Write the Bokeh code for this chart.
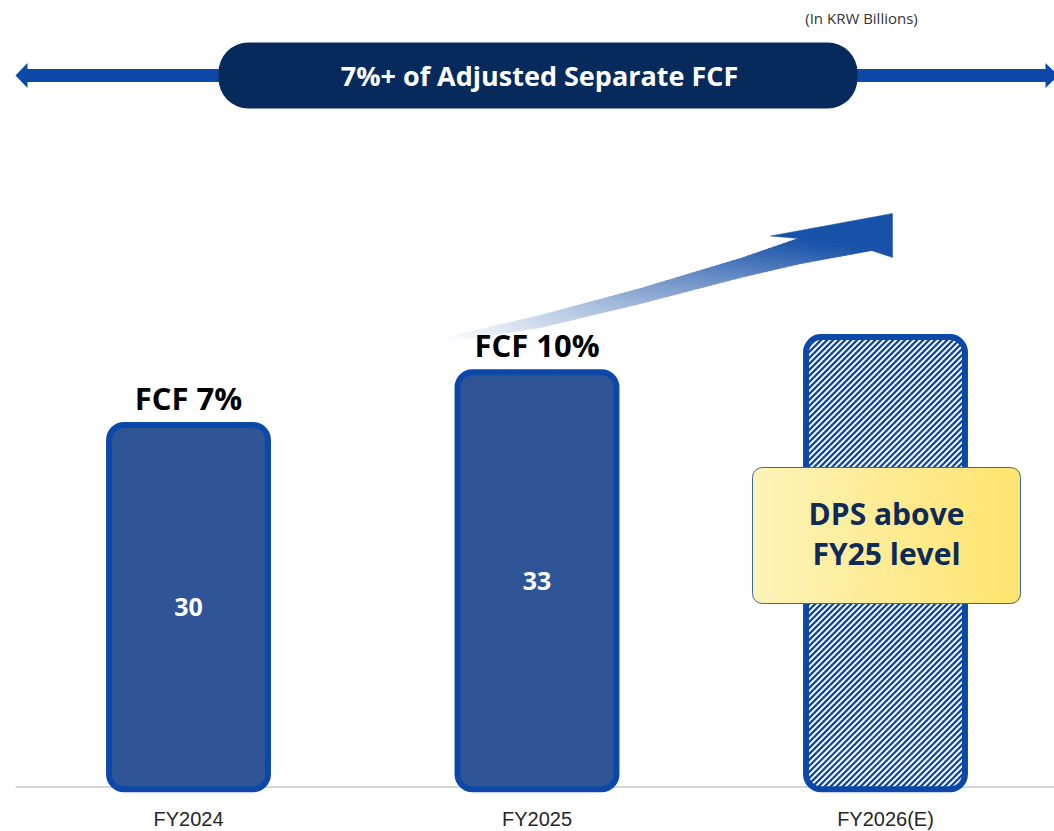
import numpy as np
from bokeh.plotting import figure
from bokeh.models import Range1d, FixedTicker
from bokeh.core.properties import value
from bokeh.embed import file_html
from bokeh.resources import INLINE

# ---------------- data ----------------
categories = ["FY2024", "FY2025", "FY2026(E)"]
dividend = [30, 33, 35]            # FY2026(E) bar height is an estimate (not labelled)
value_labels = ["30", "33"]
fcf_labels = ["FCF 7%", "FCF 10%"]
banner_text = "7%+ of Adjusted Separate FCF"
unit_text = "(In KRW Billions)"
callout_text = "DPS above\nFY25 level"

# ---------------- layout constants ----------------
FW, FH = 1054, 795                 # frame size in page px
PX_PER_UNIT = 17.57
FLOOR = 9.27                       # value where bars start (baseline)
FLOOR_PX = 788.7
X_UNIT = 348.5
X0_PX = 188.0
BAR_W = 0.456
BAR_R = 15

y_start = FLOOR - (FH - FLOOR_PX) / PX_PER_UNIT
y_end = FLOOR + FLOOR_PX / PX_PER_UNIT
x_start = -X0_PX / X_UNIT
x_end = x_start + FW / X_UNIT

OS = value("Open Sans")
NAVY = "#062a5c"
BLUE = "#0b48a8"

p = figure(frame_width=FW, frame_height=FH,
           x_range=Range1d(x_start, x_end), y_range=Range1d(y_start, y_end),
           output_backend="svg", toolbar_location=None, y_axis_location=None,
           min_border_left=0, min_border_right=0, min_border_top=0, min_border_bottom=0,
           outline_line_color=None, background_fill_color="white", border_fill_color="white")
p.grid.visible = False
p.extra_x_ranges = {"px": Range1d(0, FW)}
p.extra_y_ranges = {"px": Range1d(FH, 0)}
PX = dict(x_range_name="px", y_range_name="px")

idx = list(range(len(categories)))
p.xaxis.ticker = FixedTicker(ticks=idx)
p.xaxis.major_label_overrides = {i: c for i, c in enumerate(categories)}
p.xaxis.axis_line_color = None
p.xaxis.major_tick_line_color = None
p.xaxis.minor_tick_line_color = None
p.xaxis.major_tick_out = 0
p.xaxis.major_tick_in = 0
p.xaxis.major_label_standoff = 12
p.xaxis.major_label_text_font = "Liberation Sans"
p.xaxis.major_label_text_font_size = "20px"
p.xaxis.major_label_text_color = "#262626"

# baseline
p.segment(x0=[15], y0=[786.5], x1=[1054], y1=[786.5], line_color="#c8c8c8", line_width=1.5, **PX)

# double arrow behind the banner
ax = [15, 27, 27, 1045, 1045, 1058, 1045, 1045, 27, 27]
ay = [75, 62.5, 68.5, 68.5, 62.5, 75, 87.5, 81.5, 81.5, 87.5]
p.patch(ax, ay, fill_color=BLUE, line_color=None, **PX)

# banner
p.quad(left=[218], right=[857], top=[42], bottom=[108], fill_color=NAVY, line_color=None,
       border_radius=30, **PX)
p.text(x=[539], y=[75], text=[banner_text], text_font=OS, text_font_style="bold",
       text_font_size="27px", text_color="white", text_align="center", text_baseline="middle", **PX)
p.text(x=[861], y=[17], text=[unit_text], text_font=OS, text_font_size="15px",
       text_color="#333333", text_align="center", text_baseline="middle", **PX)

# gradient growth arrow
ux_k = [440, 540, 640, 740, 798]
uy_k = [338, 315, 288, 258, 238]
lx_k = [440, 540, 640, 740, 800, 871]
ly_k = [342, 327, 303, 277, 263, 250]
N = 70
ts = np.linspace(0, 1, N + 1)
uxs = 440 + ts * (798 - 440)
uys = np.interp(uxs, ux_k, uy_k)
lxs = 440 + ts * (871 - 440)
lys = np.interp(lxs, lx_k, ly_k)
c0 = np.array([255, 255, 255])
c1 = np.array([24, 82, 168])
xs, ys, cols = [], [], []
for i in range(N):
    xs.append([uxs[i], uxs[i + 1], lxs[i + 1], lxs[i]])
    ys.append([uys[i], uys[i + 1], lys[i + 1], lys[i]])
    f = ((ts[i] + ts[i + 1]) / 2) ** 1.1
    c = (c0 + (c1 - c0) * f).astype(int)
    cols.append("#%02x%02x%02x" % tuple(c))
p.patches(xs, ys, fill_color=cols, line_color=cols, line_width=0.8, **PX)
p.patch([798, 770, 892, 892, 871], [238, 235.5, 213, 257, 250], fill_color="#1852a8",
        line_color="#1852a8", line_width=0.5, **PX)

# solid bars
p.vbar(x=idx[:2], top=dividend[:2], bottom=FLOOR, width=BAR_W, fill_color="#2f5597",
       line_color=BLUE, line_width=6, border_radius=BAR_R)

# hatched (estimate) bar: white body, diagonal stripes, outline on top
p.vbar(x=idx[2:], top=dividend[2:], bottom=FLOOR, width=BAR_W, fill_color="white",
       line_color=None, border_radius=BAR_R)
bx0 = X0_PX + (idx[2] - BAR_W / 2) * X_UNIT
bx1 = X0_PX + (idx[2] + BAR_W / 2) * X_UNIT
by0 = FLOOR_PX - (dividend[2] - FLOOR) * PX_PER_UNIT
by1 = FLOOR_PX


def inside(x, y):
    if x < bx0 or x > bx1 or y < by0 or y > by1:
        return False
    cx = min(max(x, bx0 + BAR_R), bx1 - BAR_R)
    cy = min(max(y, by0 + BAR_R), by1 - BAR_R)
    return (x - cx) ** 2 + (y - cy) ** 2 <= BAR_R ** 2


sx0, sy0, sx1, sy1 = [], [], [], []
for c in np.arange(bx0 + by0, bx1 + by1, 6.0):
    tt = np.arange(bx0, bx1 + 0.01, 0.25)
    pts = [(t, c - t) for t in tt if inside(t, c - t)]
    if len(pts) > 1:
        sx0.append(pts[0][0]); sy0.append(pts[0][1])
        sx1.append(pts[-1][0]); sy1.append(pts[-1][1])
p.segment(x0=sx0, y0=sy0, x1=sx1, y1=sy1, line_color=BLUE, line_width=2.2, **PX)
p.vbar(x=idx[2:], top=dividend[2:], bottom=FLOOR, width=BAR_W, fill_color=None,
       line_color=BLUE, line_width=6, border_radius=BAR_R)

# labels
p.text(x=idx[:2], y=[(FLOOR + v) / 2 for v in dividend[:2]], text=value_labels, text_font=OS,
       text_font_style="bold", text_font_size="25px", text_color="white",
       text_align="center", text_baseline="middle")
p.text(x=idx[:2], y=dividend[:2], text=fcf_labels, y_offset=-27, text_font=OS,
       text_font_style="bold", text_font_size="31px", text_color="black",
       text_align="center", text_baseline="middle")

# callout box with a left-to-right yellow gradient
L, R, T, B, RAD = 752, 1020, 467, 603, 10
sx = np.arange(L, R, 2.0)
s_top, s_bot, s_col = [], [], []
ca = np.array([255, 244, 186])
cb = np.array([254, 228, 110])
for x0 in sx:
    xm = x0 + 1.0
    d = min(xm - L, R - xm)
    inset = RAD - np.sqrt(max(RAD ** 2 - (RAD - d) ** 2, 0)) if d < RAD else 0.0
    s_top.append(T + inset)
    s_bot.append(B - inset)
    f = (xm - L) / (R - L)
    col = (ca + (cb - ca) * f).astype(int)
    s_col.append("#%02x%02x%02x" % tuple(col))
p.quad(left=sx, right=np.minimum(sx + 2.8, R), top=s_top, bottom=s_bot, fill_color=s_col,
       line_color=s_col, line_width=0.5, **PX)
p.quad(left=[L], right=[R], top=[T], bottom=[B], fill_color=None,
       line_color="#3a66b0", line_width=1, border_radius=RAD, **PX)
p.text(x=[886], y=[533], text=[callout_text], text_font=OS, text_font_style="bold",
       text_font_size="30px", text_color="#0d2a58", text_align="center",
       text_baseline="middle", text_line_height=0.98, **PX)

open("out.html", "w").write(file_html(p, INLINE))
